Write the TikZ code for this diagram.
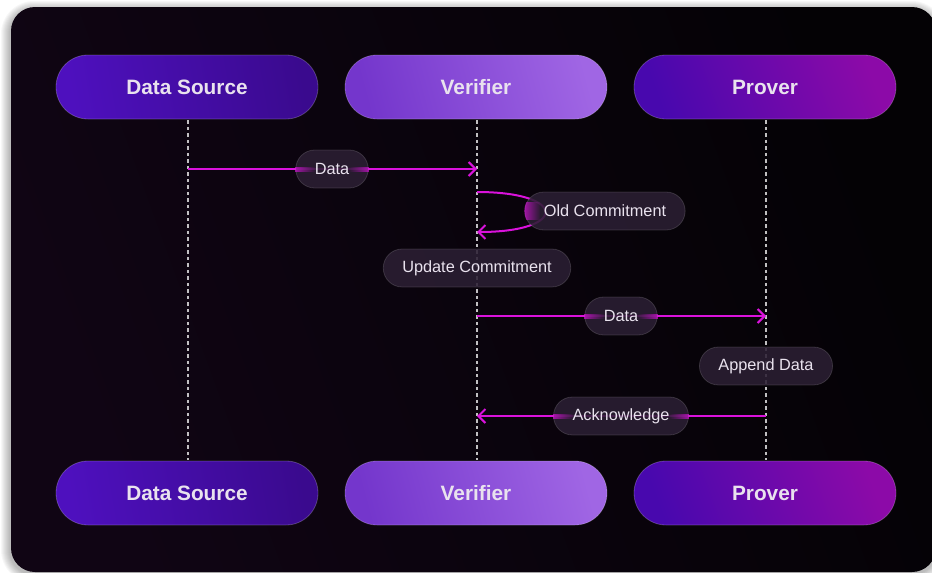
\documentclass[tikz,border=0pt]{standalone}
\usepackage{fontspec}
\setmainfont{Liberation Sans}
\usetikzlibrary{arrows.meta, calc, fadings}

\definecolor{msgc}{HTML}{DA12DC}
\definecolor{pilltext}{HTML}{E9E2EE}
\definecolor{pillfill}{HTML}{2B1F33}
\definecolor{dsA}{HTML}{4E10BE}
\definecolor{dsB}{HTML}{3A0A8E}
\definecolor{vfA}{HTML}{7436CC}
\definecolor{vfB}{HTML}{A066E4}
\definecolor{prA}{HTML}{4808AE}
\definecolor{prB}{HTML}{8C0AA8}
\definecolor{panelA}{HTML}{100514}
\definecolor{panelB}{HTML}{040205}

\tikzfading[name=glowleft, left color=transparent!10, right color=transparent!100]
\tikzfading[name=glowright, left color=transparent!100, right color=transparent!10]

\tikzset{
  actor/.style={rectangle, rounded corners=31.9pt, minimum width=262pt,
    minimum height=64pt, draw=white, draw opacity=0.22, line width=0.8pt,
    text=pilltext, font=\fontsize{20.8}{24}\selectfont\bfseries, shading=axis},
  dsnode/.style={actor, left color=dsA, right color=dsB, shading angle=100},
  vfnode/.style={actor, left color=vfA, right color=vfB, shading angle=105},
  prnode/.style={actor, left color=prA, right color=prB, shading angle=110},
  lifeline/.style={draw=white, opacity=0.75, line width=1.1pt, dash pattern=on 3.5pt off 3pt},
  msg/.style={draw=msgc, line width=2pt,
    -{Straight Barb[length=7pt, width=14pt, line width=2pt]}},
  label/.style={rectangle, rounded corners=18.9pt, minimum height=38pt,
    inner xsep=19pt, fill=pillfill, fill opacity=0.88, text opacity=1,
    draw=white, draw opacity=0.14, line width=0.8pt,
    text=pilltext, font=\fontsize{16.3}{19}\selectfont},
  glowL/.style={fill=msgc, opacity=0.75, path fading=glowleft},
  glowR/.style={fill=msgc, opacity=0.75, path fading=glowright},
}

\begin{document}
\begin{tikzpicture}[x=1pt, y=-1pt]
  \useasboundingbox (0,0) rectangle (932,573);
  \fill[white] (0,0) rectangle (932,573);

  % soft shadow under the panel
  \foreach \i in {1,...,9}
    \fill[black, opacity=0.03, rounded corners={24pt+\i pt}]
      ({11-\i-1},{7-\i+3}) rectangle ({936+\i},{571+\i+3});

  % dark panel
  \shade[rounded corners=24pt, left color=panelA, right color=panelB, shading angle=110]
    (11,7) rectangle (936,572);

  % participants
  \node[dsnode] (dsT) at (187,87) {Data Source};
  \node[vfnode] (vfT) at (476,87) {Verifier};
  \node[prnode] (prT) at (765,87) {Prover};
  \node[dsnode] (dsB) at (187,493) {Data Source};
  \node[vfnode] (vfB) at (476,493) {Verifier};
  \node[prnode] (prB) at (765,493) {Prover};

  % lifelines
  \draw[lifeline] ($(dsT.south)+(1,1)$) -- ($(dsB.north)+(1,-1)$);
  \draw[lifeline] ($(vfT.south)+(1,1)$) -- ($(vfB.north)+(1,-1)$);
  \draw[lifeline] ($(prT.south)+(1,1)$) -- ($(prB.north)+(1,-1)$);

  % message end points on the lifelines
  \coordinate (m1a) at (188,169);
  \coordinate (m1b) at (477,169);
  \coordinate (l1a) at (477,192);
  \coordinate (l1b) at (477,232);
  \coordinate (m2a) at (477,316);
  \coordinate (m2b) at (766,316);
  \coordinate (m3a) at (766,416);
  \coordinate (m3b) at (477,416);

  % messages
  \draw[msg] (m1a) -- (m1b);
  \node[label] (d1) at (332,169) {Data};
  \fill[glowL] ($(d1.west)+(0,-2.5)$) rectangle ($(d1.west)+(20,2.5)$);
  \fill[glowR] ($(d1.east)+(-20,-2.5)$) rectangle ($(d1.east)+(0,2.5)$);

  \draw[msg] (l1a) .. controls (568,192) and (568,232) .. (l1b);
  \node[label] (oc) at (605,211) {Old Commitment};
  \begin{scope}
    \clip[rounded corners=18.9pt] (oc.south west) rectangle (oc.north east);
    \fill[glowL] ($(oc.west)+(0,-9)$) rectangle ($(oc.west)+(16,9)$);
  \end{scope}

  \node[label] (uc) at (477,268) {Update Commitment};

  \draw[msg] (m2a) -- (m2b);
  \node[label] (d2) at (621,316) {Data};
  \fill[glowL] ($(d2.west)+(0,-2.5)$) rectangle ($(d2.west)+(20,2.5)$);
  \fill[glowR] ($(d2.east)+(-20,-2.5)$) rectangle ($(d2.east)+(0,2.5)$);

  \node[label] (ad) at (766,366) {Append Data};

  \draw[msg] (m3a) -- (m3b);
  \node[label] (ack) at (621,416) {Acknowledge};
  \fill[glowL] ($(ack.west)+(0,-2.5)$) rectangle ($(ack.west)+(20,2.5)$);
  \fill[glowR] ($(ack.east)+(-20,-2.5)$) rectangle ($(ack.east)+(0,2.5)$);
\end{tikzpicture}
\end{document}
